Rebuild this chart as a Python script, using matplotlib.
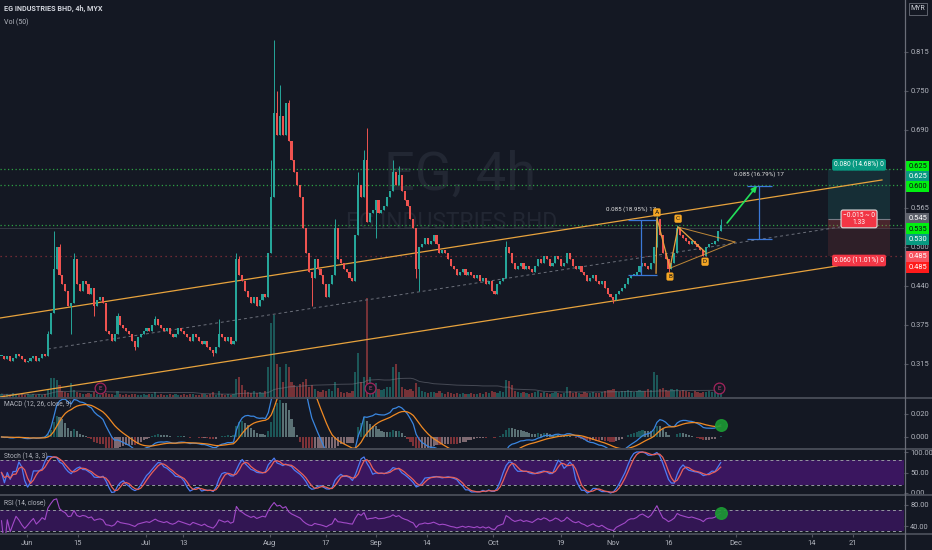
import numpy as np
import pandas as pd
import matplotlib
matplotlib.use("Agg")
import matplotlib.pyplot as plt
import matplotlib.transforms as mtransforms
from matplotlib.lines import Line2D
from matplotlib.patches import Rectangle

# ---------------- data ----------------
closes = [
    0.325, 0.320, 0.325, 0.318, 0.322, 0.328, 0.325, 0.320, 0.315, 0.318,
    0.322, 0.326, 0.318, 0.322, 0.328, 0.325, 0.360, 0.395, 0.465, 0.500,
    0.455, 0.440, 0.430, 0.405, 0.410, 0.480, 0.440, 0.430, 0.445, 0.440,
    0.425, 0.435, 0.405, 0.415, 0.420, 0.410, 0.365, 0.360, 0.350, 0.360,
    0.390, 0.375, 0.370, 0.365, 0.360, 0.350, 0.340, 0.355, 0.360, 0.365,
    0.370, 0.365, 0.375, 0.385, 0.375, 0.370, 0.365, 0.370, 0.360, 0.355,
    0.360, 0.370, 0.365, 0.360, 0.355, 0.350, 0.360, 0.355, 0.350, 0.345,
    0.350, 0.340, 0.335, 0.330, 0.340, 0.360, 0.355, 0.350, 0.355, 0.345,
    0.350, 0.480, 0.455, 0.445, 0.430, 0.420, 0.410, 0.420, 0.405, 0.415,
    0.425, 0.420, 0.490, 0.580, 0.715, 0.680, 0.710, 0.680, 0.730, 0.670,
    0.640, 0.620, 0.600, 0.580, 0.530, 0.490, 0.460, 0.450, 0.480, 0.465,
    0.455, 0.440, 0.420, 0.440, 0.455, 0.530, 0.480, 0.475, 0.465, 0.460,
    0.450, 0.445, 0.520, 0.600, 0.580, 0.640, 0.540, 0.555, 0.560, 0.575,
    0.555, 0.560, 0.565, 0.580, 0.590, 0.620, 0.600, 0.615, 0.590, 0.575,
    0.565, 0.545, 0.530, 0.465, 0.500, 0.505, 0.515, 0.505, 0.510, 0.520,
    0.505, 0.490, 0.495, 0.490, 0.480, 0.470, 0.465, 0.455, 0.460, 0.465,
    0.455, 0.460, 0.455, 0.450, 0.455, 0.445, 0.450, 0.440, 0.445, 0.430,
    0.425, 0.440, 0.445, 0.450, 0.500, 0.490, 0.475, 0.465, 0.470, 0.475,
    0.465, 0.470, 0.465, 0.460, 0.470, 0.480, 0.475, 0.485, 0.480, 0.470,
    0.475, 0.485, 0.480, 0.470, 0.475, 0.490, 0.480, 0.470, 0.465, 0.470,
    0.460, 0.455, 0.445, 0.450, 0.455, 0.445, 0.440, 0.445, 0.435, 0.425,
    0.420, 0.415, 0.425, 0.430, 0.435, 0.440, 0.450, 0.455, 0.455, 0.460,
    0.470, 0.475, 0.470, 0.465, 0.475, 0.500, 0.545, 0.520, 0.490, 0.480,
    0.465, 0.475, 0.490, 0.530, 0.520, 0.515, 0.510, 0.505, 0.510, 0.505,
    0.500, 0.495, 0.485, 0.500, 0.505, 0.505, 0.510, 0.525, 0.535,
]

volumes = [
    0.3, 0.2, 0.3, 0.2, 0.4, 0.3, 0.2, 0.3, 0.2, 0.3, 0.2, 0.3, 0.2, 0.3, 0.2, 0.3, 0.8,
    1.9, 1.9, 1.7, 1.2, 0.6, 0.5, 0.4, 1.4, 0.7,
    0.5, 0.4, 0.3, 0.3, 0.4, 0.3, 0.5, 0.3, 0.2, 0.3,
    0.4, 0.3, 0.3, 0.2, 0.6, 0.3, 0.2, 0.3, 0.2, 0.3,
    0.3, 0.2, 0.2, 0.3, 0.2, 0.3, 0.3, 0.5, 0.2, 0.3,
    0.2, 0.2, 0.3, 0.2, 0.3, 0.2, 0.2, 0.3, 0.2, 0.3,
    0.3, 0.2, 0.2, 0.3, 0.3, 0.2, 0.3, 0.5, 0.2, 0.6,
    0.3, 0.2, 0.3, 0.2, 0.3,
    1.8, 2.0, 1.2, 0.7, 0.5, 0.4, 0.6, 0.4, 0.5, 0.4, 0.6,
    3.0, 7.4, 8.2, 3.3, 3.0, 1.5, 3.3, 3.0, 1.5, 1.2, 1.0, 1.3, 1.5, 1.8, 1.0, 1.2,
    0.8, 0.6, 0.5, 0.7, 0.6, 0.8, 0.6, 1.5, 0.9, 0.5, 0.4, 0.5, 0.4, 0.6,
    2.5, 4.4, 1.5, 2.0, 9.9, 2.0, 1.0, 1.4, 0.8, 0.7, 0.8, 1.0, 1.0, 3.0, 3.3, 2.5,
    1.0, 0.8, 0.7, 0.8, 0.6, 1.4, 1.0, 0.6, 0.5, 0.4,
    0.5, 0.5, 0.4, 0.6, 0.4, 0.3, 0.5, 0.4, 0.3, 0.4,
    0.3, 0.4, 0.3, 0.3, 0.4, 0.3, 0.3, 0.4, 0.3, 0.5,
    0.4, 0.6, 0.5, 0.4, 0.6, 0.5,
    1.7, 1.6, 1.2, 0.6, 0.5, 0.4, 0.5, 0.4, 0.3, 0.4, 0.5, 0.6, 0.4, 0.5, 0.4, 0.3, 0.4, 0.5, 0.4, 0.3,
    0.4, 1.0, 0.6, 0.4, 0.5, 0.4, 0.3, 0.5, 0.4, 0.4,
    0.5, 0.4, 0.4, 0.5, 0.6, 0.7, 0.7, 0.8, 0.6, 0.5,
    0.6, 0.6, 0.7, 0.6, 0.5, 0.6, 0.7, 0.6, 0.6, 0.8,
    0.7, 2.5, 2.2, 0.8, 0.9, 0.7, 0.6, 0.8, 0.7, 0.8,
    0.6, 0.7, 0.6, 0.5, 0.4, 0.6, 0.5, 0.4, 0.5, 0.5,
    0.6, 0.5, 0.7, 0.8, 0.9,
]

high_wicks = {16: 0.365, 18: 0.525, 20: 0.505, 25: 0.49, 40: 0.395, 53: 0.39,
              75: 0.385, 81: 0.49, 82: 0.485, 93: 0.64, 94: 0.832, 95: 0.75,
              96: 0.76, 99: 0.735, 115: 0.545, 123: 0.62, 125: 0.655, 126: 0.69,
              135: 0.64, 137: 0.63, 174: 0.51, 226: 0.55, 233: 0.535, 248: 0.545}
low_wicks = {24: 0.36, 32: 0.39, 46: 0.335, 73: 0.325, 107: 0.405, 129: 0.515,
             143: 0.45, 144: 0.43, 211: 0.41, 230: 0.46, 242: 0.485}

price_ticks = [0.3125, 0.375, 0.4375, 0.5, 0.5625, 0.6875, 0.75, 0.8125]
price_tick_labels = ['0.315', '0.375', '0.440', '0.500', '0.565', '0.690', '0.750', '0.815']
date_labels = ['Jun', '15', 'Jul', '13', 'Aug', '17', 'Sep', '14', 'Oct', '19',
               'Nov', '16', 'Dec', '14', '21']
date_bars = [8.8, 26.4, 49.8, 62.6, 92.6, 111.9, 129.1, 146.7, 169.5, 192.9,
             210.9, 230.2, 253.3, 279.5, 293.6]

upper_channel = [(-0.5, 0.3862), (303.6, 0.6074)]
lower_channel = [(-0.5, 0.2596), (288.1, 0.4696)]
mid_channel = [(16.0, 0.3365), (289.1, 0.532)]

green_levels = [0.625, 0.600, 0.535]
red_level = 0.485

abcd_points = {'A': (226.0, 0.5465), 'B': (230.5, 0.466), 'C': (233.3, 0.532), 'D': (242.6, 0.492)}
abcd_start = (225.7, 0.458)
triangle_apex = (252.9, 0.508)

entry_price, target_price, stop_price, current_price = 0.545, 0.625, 0.485, 0.530
position_bars = (285.0, 306.4)
target_text = '0.080 (14.68%) 0'
stop_text = '0.060 (11.01%) 0'
pnl_text = '\u22120.015 ~ 0\n1.33'

measure1 = dict(bar=220.5, lo=0.455, hi=0.543, left=216.0, right=226.0, label='0.085 (18.95%) 17')
measure2 = dict(bar=261.2, lo=0.5135, hi=0.5985, left=257.1, right=265.7, label='0.085 (16.79%) 17')
arrow_from = (250.2, 0.5385)
arrow_to = (260.5, 0.598)
earnings_bars = [34.0, 127.1, 247.4]

# text, value, facecolor, textcolor, stacking offset (px)
badges = [
    ('0.625', 0.625, '#00f010', '#0b0e14', -2),
    ('0.625', 0.625, '#089981', '#ffffff', 8),
    ('0.600', 0.600, '#00f010', '#0b0e14', 2),
    ('0.545', 0.545, '#5d606b', '#ffffff', 0),
    ('0.535', 0.535, '#00f010', '#0b0e14', 4),
    ('0.530', 0.530, '#089981', '#ffffff', 11),
    ('0.485', 0.485, '#f7525f', '#ffffff', 0),
    ('0.485', 0.485, '#ff1a1a', '#ffffff', 11),
]

assert len(closes) == 249 and len(volumes) == 249

# ---------------- style ----------------
BG = '#141823'
GRID = '#50535e'
TXT = '#b2b5be'
UP = '#26a69a'
DN = '#ef5350'
AXFS = 5.4
plt.rcParams['font.family'] = ['Roboto', 'DejaVu Sans']

W, H = 932, 550
fig = plt.figure(figsize=(W / 100, H / 100), dpi=100)
fig.patch.set_facecolor(BG)


def px_rect(x0, y0, x1, y1):
    return [x0 / W, 1 - y1 / H, (x1 - x0) / W, (y1 - y0) / H]


XLIM = (-0.52, 311.2)

c = pd.Series(closes, dtype=float)
n = len(c)
x = np.arange(n)
o = np.concatenate([[closes[0]], closes[:-1]])
cv = c.values
hi = np.maximum(o, cv)
lo = np.minimum(o, cv)
for k, v in high_wicks.items():
    hi[k] = max(hi[k], v)
for k, v in low_wicks.items():
    lo[k] = min(lo[k], v)
up = cv >= o
cols = np.where(up, UP, DN)


def clean(a):
    a.set_xlim(*XLIM)
    for s in a.spines.values():
        s.set_visible(False)
    a.tick_params(axis='x', length=0, labelbottom=False)


def right_ticks(a, ticks, labels):
    a.yaxis.tick_right()
    a.set_yticks(ticks)
    a.set_yticklabels(labels)
    a.tick_params(axis='y', length=3, color=GRID, labelsize=AXFS, labelcolor=TXT, pad=1.5)


# ---------------- volume (behind) ----------------
axv = fig.add_axes(px_rect(0, 0, 904, 397))
axv.set_facecolor(BG)
clean(axv)
axv.set_yticks([])
vol_cols = np.where(up, '#26a69a', '#ef5350')
axv.bar(x, volumes, width=0.75, color=vol_cols, alpha=0.45, linewidth=0)
vol_ma = pd.Series(volumes).rolling(50, min_periods=1).mean()
axv.plot(x, vol_ma, color='#787b86', lw=0.7, alpha=0.5)
axv.set_ylim(0, max(volumes) * 397 / 99)
axv.set_zorder(1)

# ---------------- main price pane ----------------
ax = fig.add_axes(px_rect(0, 0, 904, 397))
ax.set_zorder(2)
ax.patch.set_visible(False)
clean(ax)
ax.set_ylim(0.2596, 0.8958)
right_ticks(ax, price_ticks, price_tick_labels)

# watermark
ax.text(0.509, 0.56, 'EG, 4h', transform=ax.transAxes, ha='center', va='center',
        fontsize=39, color='#222733', zorder=0)
ax.text(0.50, 0.44, 'EG INDUSTRIES BHD', transform=ax.transAxes, ha='center', va='center',
        fontsize=16.5, color='#222733', zorder=0)

# horizontal levels
for lvl in green_levels:
    ax.axhline(lvl, color='#2ea043', ls=(0, (1, 2)), lw=0.9, zorder=1)
ax.axhline(red_level, color='#8c2f39', ls=(0, (1, 3)), lw=0.9, zorder=1)
ax.axhline(current_price, color='#363a45', lw=0.7, zorder=1)

# channel
ax.plot(*zip(*upper_channel), color='#e8a33d', lw=0.9, zorder=3)
ax.plot(*zip(*lower_channel), color='#e8a33d', lw=0.9, zorder=3)
ax.plot(*zip(*mid_channel), color='#6b6f7a', lw=0.7, ls=(0, (3, 3)), zorder=3)

# candles
ax.vlines(x, lo, hi, colors=cols, lw=0.7, zorder=4)
ax.bar(x, np.maximum(np.abs(cv - o), 0.0016), bottom=np.minimum(o, cv), width=0.72,
       color=cols, linewidth=0, zorder=5)

# position tool
b0, b1 = position_bars
ax.add_patch(Rectangle((b0, entry_price), b1 - b0, target_price - entry_price,
                       fc='#26a69a', alpha=0.16, ec='none', zorder=2))
ax.add_patch(Rectangle((b0, stop_price), b1 - b0, entry_price - stop_price,
                       fc='#ef5350', alpha=0.12, ec='none', zorder=2))
ax.add_patch(Rectangle((b0, current_price), b1 - b0, entry_price - current_price,
                       fc='#ef5350', alpha=0.14, ec='none', zorder=2))
ax.hlines(entry_price, b0, b1, color='#787b86', lw=0.8, zorder=3)
bm = (b0 + b1) / 2
ax.annotate(target_text, xy=(bm, target_price), xytext=(0, 3), textcoords='offset points',
            ha='center', va='center', fontsize=4.8, color='white', zorder=9,
            bbox=dict(boxstyle='round,pad=0.3', fc='#089981', ec='none'))
ax.annotate(stop_text, xy=(bm, stop_price), xytext=(0, -3), textcoords='offset points',
            ha='center', va='center', fontsize=4.8, color='white', zorder=9,
            bbox=dict(boxstyle='round,pad=0.3', fc='#f23645', ec='none'))
ax.annotate(pnl_text, xy=(bm, entry_price), xytext=(0, 0), textcoords='offset points',
            ha='center', va='center', fontsize=4.8, color='white', zorder=9, linespacing=0.95,
            bbox=dict(boxstyle='round,pad=0.3', fc='#f23645', ec='#e0e0e0', lw=0.8))

# measurement tools
for m, dx in ((measure1, -7), (measure2, 0)):
    ax.vlines(m['bar'], m['lo'], m['hi'], color='#3b78d8', lw=0.9, zorder=6)
    ax.hlines([m['lo'], m['hi']], m['left'], m['right'], color='#3b78d8', lw=0.9, zorder=6)
    ax.annotate(m['label'], xy=(m['bar'], m['hi']), xytext=(dx, 8), textcoords='offset points',
                ha='center', va='center', fontsize=4.4, color='#e6e6e6', zorder=9)
ax.annotate('', xy=arrow_to, xytext=arrow_from, zorder=8,
            arrowprops=dict(arrowstyle='-|>', color='#22e05a', lw=1.2, mutation_scale=8,
                            shrinkA=0, shrinkB=0))

# ABCD pattern
A, B, C, D = (abcd_points[k] for k in 'ABCD')
ax.plot([abcd_start[0], A[0], B[0], C[0], D[0]], [abcd_start[1], A[1], B[1], C[1], D[1]],
        color='#e8a33d', lw=0.9, zorder=7)
ax.plot([C[0], triangle_apex[0]], [C[1], triangle_apex[1]], color='#e8a33d', lw=0.7, alpha=0.8, zorder=7)
ax.plot([B[0], triangle_apex[0]], [B[1], triangle_apex[1]], color='#e8a33d', lw=0.7, alpha=0.8, zorder=7)
for name, off in (('A', 4), ('B', -6), ('C', 6), ('D', -7)):
    px_, py_ = abcd_points[name]
    ax.annotate(name, xy=(px_, py_), xytext=(0, off), textcoords='offset points',
                ha='center', va='center', fontsize=4.6, color='#1a1a1a', zorder=10,
                bbox=dict(boxstyle='round,pad=0.25', fc='#f5a623', ec='none'))

# earnings markers
trans = mtransforms.blended_transform_factory(ax.transData, ax.transAxes)
ax.scatter(earnings_bars, [0.022] * len(earnings_bars), transform=trans, s=60,
           facecolors=BG, edgecolors='#a3245c', linewidths=0.9, zorder=9)
for eb in earnings_bars:
    ax.text(eb, 0.022, 'E', transform=trans, ha='center', va='center', fontsize=4.5,
            color='#c2407a', zorder=10)

# price badges
ytr = ax.get_yaxis_transform()
for txt, val, fc, tc, off in badges:
    ax.annotate(txt, xy=(1, val), xycoords=ytr, xytext=(3, -off * 0.72), textcoords='offset points',
                ha='left', va='center', fontsize=5.4, color=tc, annotation_clip=False, zorder=12,
                bbox=dict(boxstyle='square,pad=0.3', fc=fc, ec='none'))

# ---------------- indicators ----------------
ema12 = c.ewm(span=12, adjust=False).mean()
ema26 = c.ewm(span=26, adjust=False).mean()
macd = ema12 - ema26
signal = macd.ewm(span=9, adjust=False).mean()
hist = macd - signal

axm = fig.add_axes(px_rect(0, 397, 904, 448))
axm.set_facecolor(BG)
clean(axm)
axm.set_ylim(-0.0096, 0.0348)
right_ticks(axm, [0.0, 0.02], ['0.000', '0.020'])
hv = hist.values
prev = np.concatenate([[0], hv[:-1]])
hcols = np.where(hv >= 0, np.where(hv >= prev, '#26a69a', '#b2dfdb'),
                 np.where(hv < prev, '#ff5252', '#ffcdd2'))
axm.bar(x, hv, width=0.75, color=hcols, alpha=0.45, linewidth=0)
axm.plot(x, macd, color='#3a86e0', lw=0.9)
axm.plot(x, signal, color='#f08a24', lw=0.9)
axm.scatter([x[-1]], [macd.values[-1]], s=70, color='#1c9a34', alpha=0.9, zorder=5)
axm.text(4 / 904, 0.86, 'MACD (12, 26, close, 9)', transform=axm.transAxes, fontsize=4.8,
         color=TXT, va='center')

hh = pd.Series(hi).rolling(14, min_periods=1).max()
ll = pd.Series(lo).rolling(14, min_periods=1).min()
rng = (hh - ll).replace(0, np.nan)
kraw = (100 * (c - ll) / rng).fillna(50)
kline = kraw.rolling(3, min_periods=1).mean()
dline = kline.rolling(3, min_periods=1).mean()

axs = fig.add_axes(px_rect(0, 448, 904, 495))
axs.set_facecolor(BG)
clean(axs)
axs.set_ylim(-4.9, 109.8)
right_ticks(axs, [0, 50, 100], ['0.00', '50.00', '100.00'])
axs.axhspan(20, 80, color='#8214d2', alpha=0.35, lw=0)
axs.axhline(80, color='#9598a1', ls=(0, (3, 3)), lw=0.7)
axs.axhline(20, color='#9598a1', ls=(0, (3, 3)), lw=0.7)
axs.plot(x, kline, color='#4d7cf5', lw=0.9)
axs.plot(x, dline, color='#e8605a', lw=0.9)
axs.text(4 / 904, 0.83, 'Stoch (14, 3, 3)', transform=axs.transAxes, fontsize=4.8,
         color=TXT, va='center')

delta = c.diff().fillna(0)
gain = delta.clip(lower=0).ewm(alpha=1 / 14, adjust=True).mean()
loss = (-delta.clip(upper=0)).ewm(alpha=1 / 14, adjust=True).mean()
rsi = 100 - 100 / (1 + gain / loss.replace(0, np.nan))
rsi = rsi.fillna(50)

axr = fig.add_axes(px_rect(0, 495, 904, 533))
axr.set_facecolor(BG)
clean(axr)
axr.set_ylim(26.7, 99.0)
right_ticks(axr, [40, 80], ['40.00', '80.00'])
axr.axhspan(30, 70, color='#8214d2', alpha=0.28, lw=0)
axr.axhline(70, color='#9598a1', ls=(0, (3, 3)), lw=0.7)
axr.axhline(30, color='#9598a1', ls=(0, (3, 3)), lw=0.7)
axr.plot(x, rsi, color='#a24ac8', lw=0.8)
axr.scatter([x[-1]], [rsi.values[-1]], s=70, color='#1c9a34', alpha=0.9, zorder=5)
axr.text(4 / 904, 0.78, 'RSI (14, close)', transform=axr.transAxes, fontsize=4.8,
         color=TXT, va='center')
axr.set_xticks(date_bars)
axr.set_xticklabels(date_labels)
axr.tick_params(axis='x', length=3, color=GRID, labelsize=AXFS, labelcolor=TXT, pad=2,
                labelbottom=True)

# ---------------- frame lines & header ----------------
for yy in (397.5, 448.5, 495, 533.5):
    fig.add_artist(Line2D([0, 1], [1 - yy / H] * 2, transform=fig.transFigure,
                          color='#4a4e59', lw=1.3, zorder=20))
fig.add_artist(Line2D([904.5 / W] * 2, [0, 1], transform=fig.transFigure,
                      color='#6a6d78', lw=0.9, zorder=20))

fig.text(4 / W, 1 - 9 / H, 'EG INDUSTRIES BHD, 4h, MYX', fontsize=5.2, color='#d1d4dc',
         va='center', ha='left', fontweight='bold')
fig.text(4 / W, 1 - 22 / H, 'Vol (50)', fontsize=5.0, color=TXT, va='center', ha='left')
fig.text(918 / W, 1 - 9 / H, 'MYR', fontsize=5.0, color='#d1d4dc', va='center', ha='center',
         bbox=dict(boxstyle='square,pad=0.3', fc=BG, ec='#6a6d78', lw=0.6))

fig.savefig('out.png', dpi=100, facecolor=BG)
